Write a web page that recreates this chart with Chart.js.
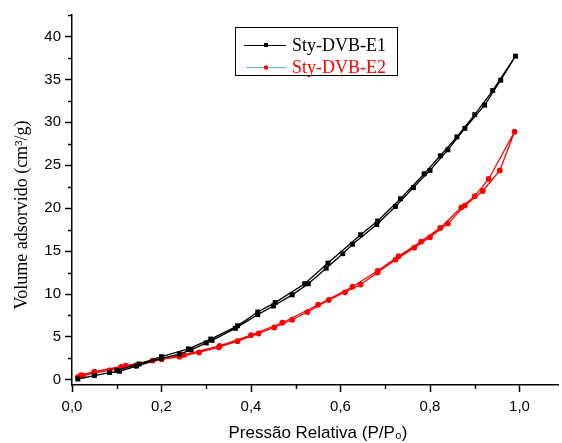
<!DOCTYPE html>
<html>
<head>
<meta charset="utf-8">
<script src="https://cdn.jsdelivr.net/npm/chart.js@4/dist/chart.umd.min.js"></script>
<style>
  html, body { margin: 0; padding: 0; background: #fff; }
  canvas { display: block; }
</style>
</head>
<body>
<canvas id="iso_graph" width="562" height="443"></canvas>
<script>
// ----------------------------- data ---------------------- >>
// Sty-DVB-E1 : adsorption then desorption branch
const e1AdsP = [0.013, 0.05, 0.084, 0.106, 0.144, 0.20, 0.24, 0.266, 0.30, 0.313, 0.365, 0.415, 0.45, 0.492, 0.528, 0.568, 0.605, 0.627, 0.681, 0.723, 0.763, 0.80, 0.84, 0.878, 0.922, 0.958, 0.991];
const e1AdsV = [0.1, 0.5, 0.85, 1.0, 1.6, 2.5, 3.0, 3.5, 4.3, 4.6, 6.0, 7.6, 8.6, 9.9, 11.2, 13.0, 14.7, 15.8, 18.1, 20.2, 22.4, 24.4, 26.8, 29.3, 32.0, 34.9, 37.7];
const e1DesP = [0.94, 0.90, 0.86, 0.823, 0.787, 0.734, 0.683, 0.645, 0.572, 0.52, 0.454, 0.415, 0.37, 0.31, 0.26, 0.20, 0.15, 0.10];
const e1DesV = [33.7, 30.9, 28.3, 26.1, 24.0, 21.1, 18.5, 16.9, 13.6, 11.2, 9.0, 7.9, 6.3, 4.75, 3.6, 2.7, 1.85, 1.1];

// Sty-DVB-E2
const e2AdsP = [0.013, 0.025, 0.05, 0.084, 0.11, 0.144, 0.20, 0.24, 0.284, 0.328, 0.37, 0.417, 0.452, 0.492, 0.526, 0.574, 0.61, 0.645, 0.683, 0.723, 0.765, 0.80, 0.84, 0.878, 0.918, 0.956, 0.989];
const e2AdsV = [0.3, 0.5, 0.8, 1.1, 1.5, 1.7, 2.4, 2.7, 3.2, 3.8, 4.5, 5.4, 6.1, 7.0, 7.9, 9.3, 10.2, 11.1, 12.5, 14.0, 15.4, 16.6, 18.2, 20.3, 22.0, 24.4, 28.9];
const e2DesP = [0.931, 0.90, 0.87, 0.823, 0.78, 0.73, 0.683, 0.627, 0.55, 0.47, 0.40, 0.33, 0.25, 0.18, 0.12, 0.05, 0.02];
const e2DesV = [23.4, 21.4, 20.1, 17.7, 16.1, 14.4, 12.7, 10.85, 8.75, 6.65, 5.2, 3.95, 2.9, 2.25, 1.65, 0.95, 0.55];

const seriesNames = ['Sty-DVB-E1', 'Sty-DVB-E2'];
const xTicks = [0.0, 0.2, 0.4, 0.6, 0.8, 1.0];
const xMinor = [0.1, 0.3, 0.5, 0.7, 0.9];
const yTicks = [0, 5, 10, 15, 20, 25, 30, 35, 40];
const yMinor = [2.5, 7.5, 12.5, 17.5, 22.5, 27.5, 32.5, 37.5, 42.5];

function toPoints(ps, vs) {
    return ps.map((p, i) => ({ x: p, y: vs[i] }));
}

// ----------------------------- plugins ---------------------- >>
const extras = {
    id: 'extras',
    afterDraw(chart) {
        const c = chart.ctx;
        const xs = chart.scales.x, ys = chart.scales.y;
        const area = chart.chartArea;
        c.save();
        // minor ticks
        c.strokeStyle = '#000';
        c.lineWidth = 1.5;
        c.beginPath();
        yMinor.forEach(v => {
            const py = Math.round(ys.getPixelForValue(v)) + 0.5;
            c.moveTo(area.left - 4, py); c.lineTo(area.left, py);
        });
        xMinor.forEach(v => {
            const px = Math.round(xs.getPixelForValue(v)) + 0.5;
            c.moveTo(px, area.bottom); c.lineTo(px, area.bottom + 4);
        });
        c.stroke();

        // axis titles
        c.fillStyle = '#000';
        c.textAlign = 'center';
        c.textBaseline = 'middle';
        c.font = '17px "Liberation Sans", Arial, sans-serif';
        c.fillText('Pressão Relativa (P/P\u2080)', 318, 433);
        c.translate(22, 215);
        c.rotate(-Math.PI / 2);
        c.font = '18px "Liberation Serif", "Times New Roman", serif';
        c.fillText('Volume adsorvido (cm\u00b3/g)', 0, 0);
        c.restore();

        // legend box
        c.save();
        c.strokeStyle = '#000';
        c.lineWidth = 1;
        c.strokeRect(235.5, 27.5, 162, 48);
        c.font = '18px "Liberation Serif", "Times New Roman", serif';
        c.textAlign = 'left';
        c.textBaseline = 'middle';
        // row 1
        c.strokeStyle = '#000';
        c.beginPath(); c.moveTo(244, 45.5); c.lineTo(286, 45.5); c.stroke();
        c.fillStyle = '#000';
        c.fillRect(264, 43, 4, 4);
        c.fillText(seriesNames[0], 292, 46);
        // row 2
        c.strokeStyle = '#5fbfbf';
        c.beginPath(); c.moveTo(246, 67.5); c.lineTo(286, 67.5); c.stroke();
        c.fillStyle = '#ff0000';
        c.beginPath(); c.arc(266, 67.5, 2.2, 0, Math.PI * 2); c.fill();
        c.fillText(seriesNames[1], 292, 68);
        c.restore();
    }
};

// ----------------------------- graph ---------------------- >>
const tickFont = { family: '"Liberation Sans", Arial, sans-serif', size: 15 };

var ctx = document.getElementById('iso_graph').getContext('2d');
var myChart = new Chart(ctx, {
    type: 'line',
    data: {
        datasets: [{
            label: seriesNames[0],
            data: toPoints(e1AdsP.concat(e1DesP), e1AdsV.concat(e1DesV)),
            borderColor: '#000',
            backgroundColor: '#000',
            borderWidth: 1.3,
            pointStyle: 'rect',
            pointRadius: 3.5,
            pointBorderWidth: 0,
            tension: 0
        }, {
            label: seriesNames[1],
            data: toPoints(e2AdsP.concat(e2DesP), e2AdsV.concat(e2DesV)),
            borderColor: '#ff0000',
            backgroundColor: '#ff0000',
            borderWidth: 1.3,
            pointStyle: 'circle',
            pointRadius: 2.9,
            pointBorderWidth: 0,
            tension: 0
        }]
    },
    options: {
        responsive: false,
        animation: false,
        devicePixelRatio: 1,
        layout: { padding: { top: 15, right: 0, left: 0, bottom: 0 } },
        plugins: {
            legend: { display: false },
            tooltip: { enabled: false }
        },
        scales: {
            x: {
                type: 'linear',
                min: 0,
                max: 1.086,
                afterBuildTicks: s => { s.ticks = xTicks.map(v => ({ value: v })); },
                afterFit: s => { s.height = 58; },
                ticks: {
                    color: '#000',
                    font: tickFont,
                    padding: 6,
                    maxRotation: 0,
                    callback: v => v.toFixed(1).replace('.', ',')
                },
                grid: { drawOnChartArea: false, tickLength: 7, tickColor: '#000', tickWidth: 1.5 },
                border: { color: '#000', width: 1.5 }
            },
            y: {
                type: 'linear',
                min: -0.6,
                max: 42.5,
                afterBuildTicks: s => { s.ticks = yTicks.map(v => ({ value: v })); },
                afterFit: s => { s.width = 72; },
                ticks: {
                    color: '#000',
                    font: tickFont,
                    padding: 4,
                    callback: v => String(v)
                },
                grid: { drawOnChartArea: false, tickLength: 7, tickColor: '#000', tickWidth: 1.5 },
                border: { color: '#000', width: 1.5 }
            }
        }
    },
    plugins: [extras]
});
</script>
</body>
</html>
